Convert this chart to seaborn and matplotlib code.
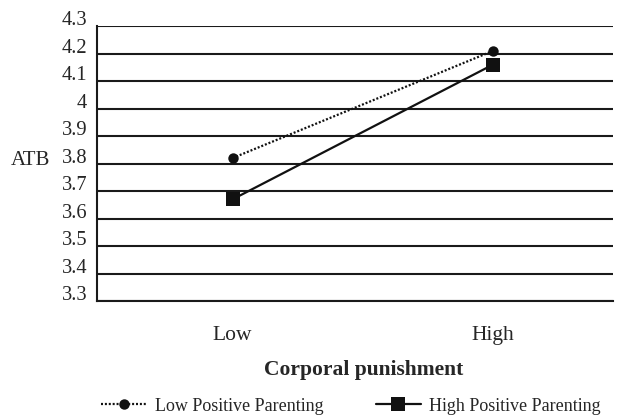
import numpy as np
import pandas as pd
import matplotlib
matplotlib.use("Agg")
import matplotlib.pyplot as plt
import matplotlib.transforms as mtransforms
import seaborn as sns

# data
punishment = ["Low", "High"]
low_pp = [3.82, 4.21]
high_pp = [3.67, 4.16]
groups = ["Low Positive Parenting", "High Positive Parenting"]
yticks = [3.3, 3.4, 3.5, 3.6, 3.7, 3.8, 3.9, 4.0, 4.1, 4.2, 4.3]
ytick_labels = ["3.3", "3.4", "3.5", "3.6", "3.7", "3.8", "3.9", "4", "4.1", "4.2", "4.3"]

df = pd.DataFrame({
    "punishment": punishment * 2,
    "ATB": low_pp + high_pp,
    "group": [groups[0]] * 2 + [groups[1]] * 2,
})

sns.set_style("white")
plt.rcParams["font.family"] = ["Liberation Serif", "DejaVu Serif"]

fig = plt.figure(figsize=(6.3, 4.2), dpi=100)
ax = fig.add_axes([0.154, 0.283, 0.819, 0.655])

for yv in yticks:
    ax.axhline(yv, color="#1a1a1a", lw=1.5, zorder=1)

sns.lineplot(data=df, x="punishment", y="ATB", hue="group", style="group",
             palette={groups[0]: "#111111", groups[1]: "#111111"},
             markers={groups[0]: "o", groups[1]: "s"},
             dashes={groups[0]: (0.9, 0.85), groups[1]: ""},
             markersize=8, linewidth=1.6, markeredgewidth=0,
             ax=ax, zorder=3)
for ln in ax.lines:
    if ln.get_marker() == "s":
        ln.set_markersize(10.5)
    elif ln.get_marker() == "o":
        ln.set_markersize(7.5)

ax.set_xlim(-0.52, 1.46)
ax.set_ylim(3.3, 4.3)
ax.set_yticks(yticks)
ax.set_yticklabels(ytick_labels, fontsize=14.8)
ax.tick_params(axis="y", length=0, pad=7)
ax.tick_params(axis="x", length=0, pad=18, labelsize=15.5)
# tick labels sit a little above their gridlines in the original
off = mtransforms.ScaledTranslation(0, 8 / 100, fig.dpi_scale_trans)
for lab in ax.get_yticklabels():
    lab.set_transform(lab.get_transform() + off)

for s in ["top", "right"]:
    ax.spines[s].set_visible(False)
ax.spines["left"].set_color("#1a1a1a")
ax.spines["left"].set_linewidth(1.5)
ax.spines["bottom"].set_color("#1a1a1a")
ax.spines["bottom"].set_linewidth(1.5)

ax.set_ylabel("ATB", rotation=0, fontsize=15, ha="right", va="center")
ax.yaxis.set_label_coords(-0.091, 0.51)
ax.set_xlabel("Corporal punishment", fontsize=15.5, fontweight="bold", labelpad=11)
ax.xaxis.label.set_x(0.516)

leg = ax.get_legend()
handles, labels = ax.get_legend_handles_labels()
if leg is not None:
    leg.remove()
fig.legend(handles, labels, loc="center", bbox_to_anchor=(0.557, 0.033),
           ncol=2, frameon=False, fontsize=13, handlelength=2.5,
           columnspacing=2.9, handletextpad=0.45)

plt.savefig("out.png", dpi=100)
